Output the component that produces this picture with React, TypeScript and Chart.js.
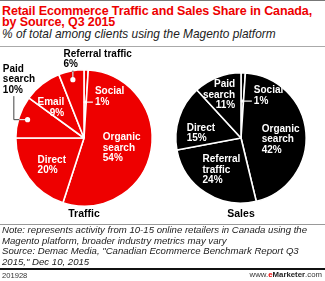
import React, { useEffect, useRef } from "react";
import { Chart, registerables } from "chart.js";

Chart.register(...registerables);

// ---- Data ----
const trafficCategories = ["Social", "Organic search", "Direct", "Paid search", "Email", "Referral traffic"];
const trafficValues = [1, 54, 20, 10, 9, 6];
const salesCategories = ["Social", "Organic search", "Referral traffic", "Direct", "Paid search"];
const salesValues = [1, 42, 24, 15, 11];

const titleLines = ["Retail Ecommerce Traffic and Sales Share in Canada,", "by Source, Q3 2015"];
const subtitle = "% of total among clients using the Magento platform";
const noteLines = [
  "Note: represents activity from 10-15 online retailers in Canada using the",
  "Magento platform, broader industry metrics may vary",
  "Source: Demac Media, \"Canadian Ecommerce Benchmark Report Q3",
  "2015,\" Dec 10, 2015",
];
const chartId = "201928";

// ---- Styles / label layout (positions relative to pie center, in radii) ----
const RED = "#ee0000";
const FONT = "'Liberation Sans', Arial, sans-serif";

type LabelStyle = {
  wrap: boolean;
  fx: number;
  fy: number;
  align: "left" | "right";
  color: string;
  leader?: "side" | "elbow" | "up";
};

const trafficLabelStyles: LabelStyle[] = [
  { wrap: false, fx: 0.16, fy: -0.68, align: "left", color: "#fff", leader: "side" },
  { wrap: true, fx: 0.275, fy: -0.01, align: "left", color: "#fff" },
  { wrap: false, fx: -0.68, fy: 0.32, align: "left", color: "#fff" },
  { wrap: true, fx: -1.19, fy: -1.01, align: "left", color: "#000", leader: "elbow" },
  { wrap: false, fx: -0.29, fy: -0.52, align: "right", color: "#fff" },
  { wrap: false, fx: -0.3, fy: -1.23, align: "left", color: "#000", leader: "up" },
];
const salesLabelStyles: LabelStyle[] = [
  { wrap: false, fx: 0.197, fy: -0.727, align: "left", color: "#fff", leader: "side" },
  { wrap: true, fx: 0.318, fy: -0.136, align: "left", color: "#fff" },
  { wrap: true, fx: -0.59, fy: 0.333, align: "left", color: "#fff" },
  { wrap: false, fx: -0.833, fy: -0.15, align: "left", color: "#fff" },
  { wrap: true, fx: -0.09, fy: -0.82, align: "right", color: "#fff" },
];

const LINE_H = 10.5;

const pieLabelPlugin = {
  id: "pieLabels",
  afterDraw(chart: any) {
    const cfg = chart.options.plugins.pieLabels;
    if (!cfg) return;
    const ctx: CanvasRenderingContext2D = chart.ctx;
    const meta = chart.getDatasetMeta(0);
    const cats: string[] = chart.data.labels;
    const vals: number[] = chart.data.datasets[0].data;
    ctx.save();
    ctx.textBaseline = "middle";
    meta.data.forEach((arc: any, i: number) => {
      const st: LabelStyle = cfg.styles[i];
      const cx = arc.x, cy = arc.y, r = arc.outerRadius;
      const mid = (arc.startAngle + arc.endAngle) / 2;
      const lines = (st.wrap ? cats[i].split(" ") : [cats[i]]).concat([vals[i] + "%"]);
      const lx = cx + st.fx * r;
      const ly = cy + st.fy * r;
      ctx.font = "bold 10px " + FONT;
      ctx.fillStyle = st.color;
      ctx.textAlign = st.align;
      lines.forEach((t, k) => ctx.fillText(t, lx, ly + k * LINE_H));
      const lastY = ly + (lines.length - 1) * LINE_H;
      if (st.leader === "side") {
        const yL = lastY;
        const rho = (yL - cy) / Math.sin(mid);
        const sx = cx + rho * Math.cos(mid);
        ctx.strokeStyle = "#fff";
        ctx.lineWidth = 1.2;
        ctx.beginPath();
        ctx.moveTo(sx, yL);
        ctx.lineTo(lx - 2, yL);
        ctx.stroke();
        ctx.fillStyle = "#fff";
        ctx.beginPath();
        ctx.arc(sx, yL, 1.6, 0, Math.PI * 2);
        ctx.fill();
      } else if (st.leader === "elbow") {
        const dx = cx + 0.87 * r * Math.cos(mid);
        const dy = cy + 0.87 * r * Math.sin(mid);
        const vx = lx + 11;
        const topY = lastY + 6;
        ctx.lineWidth = 1;
        ctx.strokeStyle = "#444";
        ctx.beginPath();
        ctx.moveTo(vx, topY);
        ctx.lineTo(vx, dy);
        ctx.lineTo(dx, dy);
        ctx.stroke();
        const edgeX = cx - Math.sqrt(Math.max(r * r - (dy - cy) * (dy - cy), 0));
        ctx.strokeStyle = "#fff";
        ctx.beginPath();
        ctx.moveTo(edgeX + 1, dy);
        ctx.lineTo(dx, dy);
        ctx.stroke();
        ctx.fillStyle = "#fff";
        ctx.beginPath();
        ctx.arc(dx, dy, 2.6, 0, Math.PI * 2);
        ctx.fill();
      } else if (st.leader === "up") {
        const dx = cx + 0.87 * r * Math.cos(mid);
        const dy = cy + 0.87 * r * Math.sin(mid);
        const topY = lastY + 6;
        ctx.lineWidth = 1;
        ctx.strokeStyle = "#444";
        ctx.beginPath();
        ctx.moveTo(dx, topY);
        ctx.lineTo(dx, dy);
        ctx.stroke();
        const edgeY = cy - Math.sqrt(Math.max(r * r - (dx - cx) * (dx - cx), 0));
        ctx.strokeStyle = "#fff";
        ctx.beginPath();
        ctx.moveTo(dx, edgeY + 1);
        ctx.lineTo(dx, dy);
        ctx.stroke();
        ctx.fillStyle = "#fff";
        ctx.beginPath();
        ctx.arc(dx, dy, 2.6, 0, Math.PI * 2);
        ctx.fill();
      }
    });
    // caption
    if (meta.data.length) {
      const a = meta.data[0];
      ctx.font = "bold 10.5px " + FONT;
      ctx.fillStyle = "#000";
      ctx.textAlign = "center";
      ctx.fillText(cfg.caption, a.x, a.y + cfg.captionDy);
    }
    ctx.restore();
  },
};

function PieChart(props: {
  categories: string[];
  values: number[];
  color: string;
  styles: LabelStyle[];
  caption: string;
  padding: { left: number; right: number; top: number; bottom: number };
  width: number;
  height: number;
  left: number;
  top: number;
}) {
  const ref = useRef<HTMLCanvasElement>(null);
  useEffect(() => {
    if (!ref.current) return;
    const chart = new Chart(ref.current, {
      type: "pie",
      data: {
        labels: props.categories,
        datasets: [
          {
            data: props.values,
            backgroundColor: props.color,
            borderColor: "#fff",
            borderWidth: 1.6,
          },
        ],
      },
      options: {
        responsive: false,
        animation: false,
        devicePixelRatio: 1,
        layout: { padding: props.padding },
        events: [],
        plugins: {
          legend: { display: false },
          tooltip: { enabled: false },
          title: { display: false },
          // @ts-ignore
          pieLabels: { styles: props.styles, caption: props.caption, captionDy: 76 },
        },
      } as any,
      plugins: [pieLabelPlugin],
    });
    return () => chart.destroy();
  }, []);
  return (
    <canvas
      ref={ref}
      width={props.width}
      height={props.height}
      style={{ position: "absolute", left: props.left, top: props.top, width: props.width, height: props.height }}
    />
  );
}

export default function App() {
  const abs = (top: number, extra: React.CSSProperties = {}): React.CSSProperties => ({
    position: "absolute",
    left: 2,
    top,
    whiteSpace: "nowrap",
    margin: 0,
    ...extra,
  });
  return (
    <div
      style={{
        position: "absolute",
        left: 0,
        top: 0,
        width: 325,
        height: 281,
        background: "#fff",
        overflow: "hidden",
        fontFamily: FONT,
      }}
    >
      <div style={{ position: "absolute", left: 0, top: 0, width: 325, height: 1, background: "#777" }} />
      {titleLines.map((t, i) => (
        <div
          key={i}
          style={abs(5.4 + i * 11, {
            fontSize: 12.5,
            lineHeight: "12.5px",
            fontWeight: "bold",
            color: RED,
            letterSpacing: "-0.12px",
          })}
        >
          {t}
        </div>
      ))}
      <div style={abs(28.9, { fontSize: 11.9, lineHeight: "11.9px", fontStyle: "italic", color: "#222" })}>
        {subtitle}
      </div>
      <div style={{ position: "absolute", left: 0, top: 46, width: 325, height: 1, background: "#aaa" }} />

      <PieChart
        categories={trafficCategories}
        values={trafficValues}
        color={RED}
        styles={trafficLabelStyles}
        caption="Traffic"
        padding={{ left: 15, right: 15, top: 21, bottom: 21 }}
        width={168}
        height={180}
        left={0}
        top={48}
      />
      <PieChart
        categories={salesCategories}
        values={salesValues}
        color="#000"
        styles={salesLabelStyles}
        caption="Sales"
        padding={{ left: 15, right: 18, top: 24, bottom: 24 }}
        width={165}
        height={180}
        left={160}
        top={48}
      />

      <div style={{ position: "absolute", left: 0, top: 224, width: 325, height: 1, background: "#999" }} />
      <div style={abs(225.4, { fontSize: 9.6, lineHeight: "10.5px", fontStyle: "italic", color: "#222" })}>
        {noteLines.map((t, i) => (
          <div key={i}>{t}</div>
        ))}
      </div>
      <div style={{ position: "absolute", left: 0, top: 268, width: 325, height: 2, background: "#111" }} />
      <div style={abs(271.6, { fontSize: 7.6, lineHeight: "7.6px", color: "#333" })}>{chartId}</div>
      <div
        style={{
          position: "absolute",
          right: 3,
          top: 271.4,
          fontSize: 7.8,
          lineHeight: "7.8px",
          color: "#333",
          whiteSpace: "nowrap",
        }}
      >
        www.<span style={{ color: RED, fontWeight: "bold" }}>e</span>
        <span style={{ fontWeight: "bold", color: "#222" }}>Marketer</span>.com
      </div>
    </div>
  );
}
